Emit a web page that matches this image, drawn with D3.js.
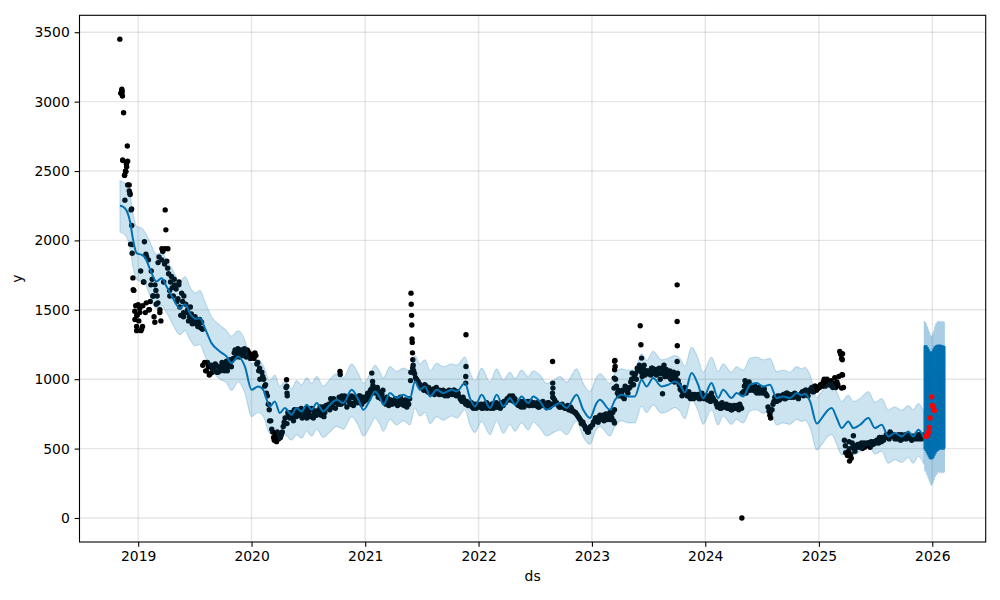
<!DOCTYPE html>
<html><head><meta charset="utf-8">
<script src="https://cdn.jsdelivr.net/npm/d3@7"></script>
<style>
body{margin:0;background:#fff}
svg{display:block}
text{font-family:"DejaVu Sans",sans-serif;font-size:13.9px;fill:#000}
</style>
</head><body>
<svg id="chart" width="1000" height="600"></svg>
<script>
// ---------- data ----------
const yTickValues = [0, 500, 1000, 1500, 2000, 2500, 3000, 3500];
const xTickYears = [2019, 2020, 2021, 2022, 2023, 2024, 2025, 2026];
const xLabel = "ds", yLabel = "y";

// observed history: readings per month starting Nov 2018
// set A at days 3, 9, 15, 21, 27 ; set B at days 6, 12, 18, 24, 28
const obsFirstMonth = "2018-11";
const obsValues = [
 3450,3080,2920,2500,2680, 2400,2220,1730,1490,1350,
 1420,1780,1380,1990,1550, 1860,1560,1720,1450,1640, 1600,1880,1420,1920,1830, 1850,1760,1700,1660,1720,
 1650,1580,1520,1620,1480, 1540,1500,1450,1470,1420, 1450,1430,1400,1370,1360, 1120,1060,1090,1040,1080,
 1070,1100,1050,1080,1090, 1080,1110,1060,1100,1130, 1150,1210,1180,1200,1170, 1190,1220,1160,1200,1180,
 1180,1150,1170,1120,1080, 1050,1000,960,880,780, 700,620,580,560,600, 580,620,690,940,760,
 720,760,700,740,780, 740,790,730,760,720, 760,730,780,750,770, 750,800,770,730,790,
 800,780,830,860,790, 840,870,820,850,880, 800,850,820,870,830, 860,840,880,820,850,
 850,900,880,930,920, 900,940,880,860,920, 850,820,860,830,840, 830,860,810,840,850,
 830,850,800,820,990, 1080,1040,1000,980,960, 940,920,950,910,930, 910,930,900,920,890,
 900,920,880,910,890, 910,890,920,880,900, 860,840,850,820,830, 810,830,790,820,800,
 800,820,790,810,830, 810,790,820,800,830, 800,820,830,810,840, 860,870,850,880,840,
 830,810,840,820,800, 820,840,810,830,820, 810,830,800,820,840, 820,800,830,810,900,
 850,830,810,800,820, 800,790,810,780,790, 770,760,740,720,700, 690,660,640,620,650,
 670,700,720,690,740, 720,700,750,730,710, 740,760,1130,950,920, 880,920,860,940,900,
 940,1000,960,1040,1080, 1100,1050,1080,1030,1060, 1060,1030,1080,1040,1070, 1050,1000,1080,1100,1040,
 1020,1060,1000,1050,990, 1040,960,920,900,940, 880,910,860,890,870, 870,890,860,900,880,
 880,850,870,900,860, 840,800,820,790,810, 800,820,790,810,780, 810,790,800,820,790,
 910,960,940,980,930, 920,950,900,940,910, 900,930,890,800,740, 780,840,860,880,850,
 870,890,860,900,880, 870,890,900,880,860, 890,910,900,920,880, 920,940,910,950,930,
 940,960,980,950,1000, 960,990,940,1010,950, 960,1200,1150,940,520, 450,500,430,520,480,
 510,530,520,500,540, 520,540,510,530,550, 540,560,580,550,570, 580,600,570,610,590,
 570,590,600,560,580, 580,570,600,590,560, 590,570,580,600,570, 580,590
];
const obsValuesB = [
 3060,2580,2470,2550,2400, 2330,1970,1640,1530,1460,
 1510,1360,1700,1480,1880, 1500,1780,1600,1680,1540, 1840,1500,1860,1700,1940, 1800,1640,1740,1600,1680,
 1560,1680,1460,1560,1600, 1480,1420,1520,1400,1440, 1400,1380,1430,1410,1100, 1060,1120,1030,1100,1050,
 1110,1050,1090,1060,1120, 1060,1130,1090,1140,1090, 1190,1160,1220,1160,1210, 1170,1200,1210,1170,1150,
 1160,1190,1110,1060,1000, 1020,950,900,820,700, 640,580,600,620,570, 600,660,720,680,740,
 750,720,780,730,760, 760,720,770,740,790, 740,790,720,770,740, 780,740,800,760,810,
 820,860,800,840,830, 820,860,880,830,850, 860,830,880,810,870, 830,880,850,870,840,
 880,860,920,900,940, 930,870,910,890,860, 830,870,810,850,820, 850,820,840,870,820,
 810,840,830,860,1050, 1060,1010,990,960,950, 930,960,920,940,900, 920,890,940,900,920,
 890,910,900,880,920, 900,920,890,910,880, 850,870,830,840,810, 820,800,810,790,820,
 810,790,820,800,790, 800,820,790,810,800, 810,790,820,840,830, 850,880,860,840,860,
 820,830,800,840,810, 830,810,840,810,830, 820,800,830,810,820, 810,830,800,820,870,
 830,820,800,810,800, 790,800,780,800,770, 760,750,730,710,680, 670,640,620,650,660,
 690,720,700,730,710, 740,720,710,740,760, 720,700,1000,900,880, 900,870,950,910,930,
 980,960,1020,1000,1060, 1070,1020,1100,1060,1040, 1040,1080,1050,1060,1030, 1080,1040,1060,1020,1070,
 1040,1000,1030,980,1010, 990,930,880,910,900, 900,870,880,860,890, 880,860,890,870,860,
 860,880,840,870,850, 820,810,790,830,800, 810,790,800,780,800, 790,810,780,800,900,
 950,920,970,920,940, 940,910,930,900,920, 920,900,880,770,760, 820,870,840,860,880,
 880,860,900,870,890, 880,870,890,870,880, 900,880,920,900,910, 930,910,950,920,940,
 960,950,1000,970,960, 980,950,970,940,980, 1020,1180,1030,560,470, 480,460,540,500,520,
 530,510,540,520,510, 540,520,550,530,540, 560,540,550,580,560, 600,580,620,590,600,
 590,570,580,600,570, 600,580,590,570,590, 580,600,570,590,580, 600,570
];

// extra observations (outliers / spread), dates as decimal years
const extraYears = [
 2018.856,2018.859,2018.861,2018.865,2018.880,2018.892,2018.898,2018.883,2018.907,
 2018.921,2018.927,2018.942,2018.943,2018.933,2018.947,2018.956,2018.971,2018.986,2019.000,2018.989,
 2019.015,2019.024,2019.041,2019.050,2019.068,2019.094,2019.112,2019.130,2019.147,
 2019.238,2019.244,2019.209,2019.191,2019.174,2019.262,2019.279,
 2019.360,2019.400,
 2020.200,2020.220,2020.240,2020.308,2020.310,2020.312,2020.314,
 2020.778,2020.780,
 2021.058,2021.065,2021.068,
 2021.404,2021.406,2021.409,2021.411,2021.413,2021.415,2021.417,2021.420,2021.423,2021.426,
 2021.889,2021.889,2021.887,2021.887,
 2022.653,2022.654,2022.656,2022.660,
 2023.203,2023.205,2023.200,2023.197,2023.195,2023.199,2023.199,
 2023.355,
 2023.426,2023.432,2023.438,
 2023.623,
 2023.752,2023.752,2023.753,2023.752,2023.755,
 2024.322,2024.350,2024.360,
 2024.570,2024.575,
 2025.208,2025.206,2025.203,2025.200,
 2025.304,2025.265,2025.270,2025.280
];
const extraValues = [
 3090,3070,3040,2575,2470,2496,2530,2290,2570,
 2357,2340,2227,2107,1973,1908,1644,1430,1380,1536,1460,
 1480,1350,1530,1700,1900,1500,1680,1600,1410,
 2220,2076,1940,1480,1550,1940,1600,
 1700,1450,
 560,550,590,996,950,900,880,
 1056,1034,
 1044,984,955,
 1620,1540,1460,1390,1290,1265,1190,1140,1100,1050,
 1320,1092,1020,972,
 1128,972,936,864,
 1135,1092,1068,1008,936,780,684,
 1044,
 1385,1248,1152,
 895,
 1680,1416,1241,1128,1044,
 0,990,900,
 780,720,
 1183,1140,1032,936,
 593,550,410,460
];

// fitted yhat with uncertainty interval over history
const fitYears = [
 2018.839,2018.883,2018.927,2018.956,2018.986,2019.030,2019.059,2019.103,2019.162,2019.206,
 2019.250,2019.302,2019.368,2019.412,2019.460,2019.504,2019.544,2019.588,2019.647,2019.720,
 2019.779,2019.823,2019.882,2019.941,2020.000,2020.058,2020.102,2020.161,2020.205,2020.249,
 2020.293,2020.352,2020.396,2020.441,2020.485,2020.529,2020.573,2020.631,2020.690,2020.749,
 2020.807,2020.881,2020.940,2020.984,2021.043,2021.087,2021.131,2021.160,2021.219,2021.278,
 2021.336,2021.395,2021.439,2021.483,2021.528,2021.572,2021.631,2021.689,2021.763,2021.807,
 2021.880,2021.924,2021.968,2022.027,2022.101,2022.160,2022.218,2022.277,2022.321,2022.380,
 2022.438,2022.482,2022.541,2022.600,2022.659,2022.718,2022.777,2022.865,2022.923,2022.982,
 2023.041,2023.070,2023.159,2023.203,2023.262,2023.320,2023.379,2023.438,2023.482,2023.540,
 2023.614,2023.673,2023.732,2023.776,2023.820,2023.879,2023.937,2023.981,2024.055,2024.113,
 2024.157,2024.231,2024.275,2024.334,2024.393,2024.452,2024.510,2024.569,2024.628,2024.686,
 2024.745,2024.804,2024.848,2024.877,2024.922,2024.981,2025.025,2025.083,2025.113,2025.157,
 2025.201,2025.259,2025.304,2025.363,2025.436,2025.495,2025.554,2025.612,2025.671,2025.730,
 2025.788,2025.832,2025.877,2025.927
];
const fitValues = [
 2251,2232,2140,2000,1908,1896,1880,1795,1704,1728,
 1668,1590,1512,1540,1470,1435,1440,1368,1260,1200,
 1164,1116,1164,1092,924,948,924,804,840,756,
 792,744,792,768,816,780,828,768,816,852,
 828,924,852,780,852,912,864,816,900,864,
 888,864,984,924,948,876,924,900,924,912,
 972,864,804,888,792,888,804,864,816,876,
 828,876,840,780,804,828,792,888,780,720,
 828,852,780,850,888,876,876,996,948,1008,
 948,960,984,960,905,1044,960,864,972,864,
 924,864,900,876,960,972,948,960,864,876,
 864,900,885,895,840,680,720,780,792,720,
 648,696,648,672,720,648,672,588,612,588,
 624,588,636,576
];
const fitUpper = [
 2430,2410,2330,2190,2100,2090,2060,1990,1900,1910,
 1860,1790,1700,1740,1660,1620,1640,1560,1450,1390,
 1350,1310,1350,1280,1110,1140,1100,990,1030,950,
 980,930,990,960,1010,970,1020,950,1000,1040,
 1010,1110,1040,970,1040,1100,1050,1010,1090,1055,
 1080,1060,1170,1110,1140,1060,1115,1090,1110,1100,
 1160,1050,990,1080,980,1075,995,1050,1005,1065,
 1020,1060,1030,970,990,1020,980,1075,970,910,
 1015,1040,970,1040,1075,1065,1070,1185,1135,1200,
 1140,1150,1170,1150,1095,1230,1150,1050,1160,1055,
 1110,1050,1090,1065,1150,1160,1140,1150,1055,1065,
 1050,1090,1075,1085,1030,870,910,970,980,910,
 840,885,840,860,910,835,860,780,800,775,
 810,780,825,765
];
const fitLower = [
 2060,2040,1950,1800,1720,1700,1690,1600,1510,1530,
 1480,1400,1320,1350,1280,1240,1250,1170,1070,1000,
 975,920,980,900,730,760,735,610,650,560,
 600,560,600,575,625,590,640,580,620,660,
 640,730,665,590,660,720,670,625,710,670,
 700,670,790,735,760,680,730,705,735,720,
 780,670,615,695,600,700,610,675,625,685,
 635,690,650,590,615,635,600,700,585,530,
 640,660,590,660,700,685,685,805,760,815,
 755,770,795,770,715,855,770,675,780,670,
 735,675,710,685,770,780,755,770,670,685,
 675,710,695,705,650,490,530,590,600,530,
 455,505,455,480,530,460,480,395,420,400,
 435,395,445,385
];

// forecast period: alternating daily highs / lows
const fcStartYear = 2025.927, fcEndYear = 2026.108;
const fcValues = [1240,500,1240,490,1235,475,1225,460,1210,445,1195,432,1190,428,1192,430,1200,440,1215,455,
                  1228,470,1236,482,1240,490,1242,495,1240,498,1242,500,1240,500,1238,498,1236,500,1232,502];
const fcUpper  = [1420,690,1410,680,1400,665,1380,650,1360,635,1340,620,1320,618,1310,620,1330,630,1350,645,
                  1380,660,1400,672,1410,680,1420,685,1415,688,1420,690,1410,690,1420,688,1415,690,1410,692];
const fcLower  = [1050,340,1050,330,1045,310,1035,290,1020,270,1005,250,1000,235,1002,240,1010,255,1025,275,
                  1038,295,1046,310,1050,320,1052,330,1050,325,1052,330,1050,320,1048,330,1046,325,1042,330];

// held-out actuals (red)
const testYears  = [2025.945,2025.955,2025.959,2025.965,2025.974,2025.980,2025.995,2026.000,2026.009,2026.018];
const testValues = [588,600,596,619,652,720,873,810,796,775];

// ---------- helpers ----------
function yearToDate(y){
  const yr = Math.floor(y);
  const a = Date.UTC(yr,0,1), b = Date.UTC(yr+1,0,1);
  return new Date(a + (y - yr) * (b - a));
}
const [obsY, obsM] = obsFirstMonth.split("-").map(Number);
const daysA = [3, 9, 15, 21, 27], daysB = [6, 12, 18, 24, 28];
const obsA = obsValues.map((v,i) => ({
  d: new Date(Date.UTC(obsY, obsM - 1 + Math.floor(i/5), daysA[i%5])), v
}));
const obsB = obsValuesB.map((v,i) => ({
  d: new Date(Date.UTC(obsY, obsM - 1 + Math.floor(i/5), daysB[i%5])), v
}));
const extras = extraYears.map((y,i) => ({d: yearToDate(y), v: extraValues[i]}));
const fit = fitYears.map((y,i) => ({d: yearToDate(y), v: fitValues[i], lo: fitLower[i], hi: fitUpper[i]}));
const fcN = fcValues.length;
const fc = fcValues.map((v,i) => ({
  d: yearToDate(fcStartYear + (fcEndYear - fcStartYear) * i/(fcN-1)), v, lo: fcLower[i], hi: fcUpper[i]
}));
const test = testYears.map((y,i) => ({d: yearToDate(y), v: testValues[i]}));

// ---------- layout ----------
const L = 79.5, R = 985.7, T = 15.3, B = 542;
const svg = d3.select("#chart");
const x = d3.scaleUtc().domain([new Date(Date.UTC(2018,5,26)), new Date(Date.UTC(2026,5,22))]).range([L, R]);
const y = d3.scaleLinear().domain([-173, 3622]).range([B, T]);
const blue = "#0072B2";

svg.append("defs").append("clipPath").attr("id","clip")
  .append("rect").attr("x",L).attr("y",T).attr("width",R-L).attr("height",B-T);

// grid
const grid = svg.append("g");
grid.selectAll(".gx").data(xTickYears).join("line")
  .attr("x1", d => x(new Date(Date.UTC(d,0,1)))).attr("x2", d => x(new Date(Date.UTC(d,0,1))))
  .attr("y1", T).attr("y2", B).attr("stroke", "#808080").attr("stroke-opacity", 0.2).attr("stroke-width", 1.39);
grid.selectAll(".gy").data(yTickValues).join("line")
  .attr("x1", L).attr("x2", R).attr("y1", d => y(d)).attr("y2", d => y(d))
  .attr("stroke", "#808080").attr("stroke-opacity", 0.2).attr("stroke-width", 1.39);

const plot = svg.append("g").attr("clip-path","url(#clip)");

// observed points
plot.append("g").selectAll("circle").data(obsA.concat(obsB, extras)).join("circle")
  .attr("cx", d => x(d.d)).attr("cy", d => y(d.v)).attr("r", 2.7).attr("fill", "#000");

// yhat line (history + forecast)
plot.append("path").datum(fit)
  .attr("d", d3.line().x(d => x(d.d)).y(d => y(d.v)).curve(d3.curveMonotoneX))
  .attr("fill","none").attr("stroke", blue).attr("stroke-width", 2);
plot.append("path").datum(fc)
  .attr("d", d3.line().x(d => x(d.d)).y(d => y(d.v)).curve(d3.curveStepAfter))
  .attr("fill","none").attr("stroke", blue).attr("stroke-width", 2);

// uncertainty band
plot.append("path").datum(fit)
  .attr("d", d3.area().x(d => x(d.d)).y0(d => y(d.lo)).y1(d => y(d.hi)).curve(d3.curveMonotoneX))
  .attr("fill", blue).attr("fill-opacity", 0.2)
  .attr("stroke", blue).attr("stroke-opacity", 0.2).attr("stroke-width", 1.2);
plot.append("path").datum(fc)
  .attr("d", d3.area().x(d => x(d.d)).y0(d => y(d.lo)).y1(d => y(d.hi)).curve(d3.curveStepAfter))
  .attr("fill", blue).attr("fill-opacity", 0.2)
  .attr("stroke", blue).attr("stroke-opacity", 0.2).attr("stroke-width", 0.8);

// test points
plot.append("g").selectAll("circle").data(test).join("circle")
  .attr("cx", d => x(d.d)).attr("cy", d => y(d.v)).attr("r", 2.7).attr("fill", "red");

// axes
const xAxis = d3.axisBottom(x)
  .tickValues(xTickYears.map(yv => new Date(Date.UTC(yv,0,1))))
  .tickFormat(d3.utcFormat("%Y")).tickSize(4.86).tickPadding(4.5);
const gx = svg.append("g").attr("transform", `translate(0,${B})`).call(xAxis);
const yAxis = d3.axisLeft(y).tickValues(yTickValues).tickFormat(d3.format("d")).tickSize(4.86).tickPadding(4.9);
const gy = svg.append("g").attr("transform", `translate(${L},0)`).call(yAxis);
[gx, gy].forEach(g => {
  g.select(".domain").remove();
  g.selectAll(".tick line").attr("stroke","#000").attr("stroke-width",1.1);
  g.selectAll(".tick text").attr("fill","#000").style("font-size","13.9px").style("font-family","'DejaVu Sans',sans-serif");
});
gx.selectAll(".tick text").attr("dy", "0.71em");

// frame
svg.append("rect").attr("x",L).attr("y",T).attr("width",R-L).attr("height",B-T)
  .attr("fill","none").attr("stroke","#000").attr("stroke-width",1.1);

// axis labels
svg.append("text").attr("x",(L+R)/2).attr("y",581).attr("text-anchor","middle").text(xLabel);
svg.append("text").attr("transform",`translate(22,${(T+B)/2}) rotate(-90)`).attr("text-anchor","middle").text(yLabel);
</script>
</body></html>
